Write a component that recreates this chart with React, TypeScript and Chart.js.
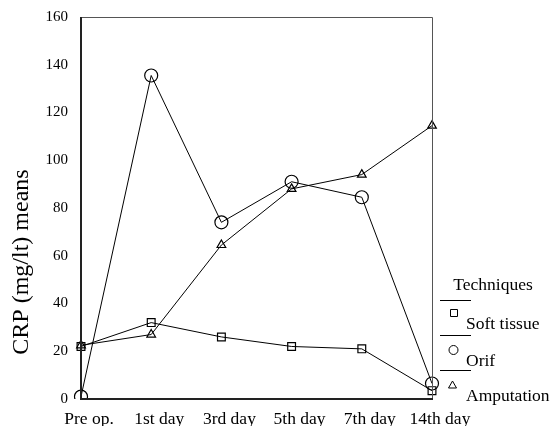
import React, { useEffect, useRef } from "react";
import { Chart, registerables } from "chart.js";

Chart.register(...registerables);

const categories = ["Pre op.", "1st day", "3rd day", "5th day", "7th day", "14th day"];
const softTissue = [22, 32, 26, 22, 21, 3.5];
const orif = [1, 135.5, 74, 91, 84.5, 6.5];
const amputation = [22.5, 27, 64.5, 88, 94, 114.5];
const legendTitle = "Techniques";
const yTitle = "CRP (mg/lt) means";

const FONT = "'Liberation Serif', 'Times New Roman', serif";

const boxPlugin = {
  id: "boxPlugin",
  afterDatasetsDraw(chart: any) {
    const { ctx, chartArea } = chart;
    const { left, right, top, bottom } = chartArea;
    ctx.save();
    ctx.strokeStyle = "#555";
    ctx.lineWidth = 1;
    ctx.beginPath();
    ctx.moveTo(left, top + 0.5);
    ctx.lineTo(right + 0.5, top + 0.5);
    ctx.lineTo(right + 0.5, bottom);
    ctx.stroke();
    ctx.strokeStyle = "#222";
    ctx.lineWidth = 2;
    ctx.beginPath();
    ctx.moveTo(left, top);
    ctx.lineTo(left, bottom);
    ctx.lineTo(right + 1, bottom);
    ctx.stroke();
    ctx.restore();
  },
};

const titlePlugin = {
  id: "yTitlePlugin",
  afterDraw(chart: any) {
    const { ctx } = chart;
    ctx.save();
    ctx.fillStyle = "#000";
    ctx.font = `24px ${FONT}`;
    ctx.textAlign = "center";
    ctx.textBaseline = "middle";
    ctx.translate(22, 262);
    ctx.rotate(-Math.PI / 2);
    ctx.fillText(yTitle, 0, 0);
    ctx.restore();
  },
};

const legendPlugin = {
  id: "customLegend",
  afterDraw(chart: any) {
    const { ctx } = chart;
    ctx.save();
    ctx.fillStyle = "#000";
    ctx.font = `17.5px ${FONT}`;
    ctx.textBaseline = "middle";
    ctx.textAlign = "center";
    ctx.fillText(legendTitle, 493, 285);
    const rows = [
      { lineY: 300, markY: 313, textY: 324, style: "rect" },
      { lineY: 335, markY: 350, textY: 361, style: "circle" },
      { lineY: 370, markY: 385, textY: 396, style: "triangle" },
    ];
    chart.data.datasets.forEach((ds: any, i: number) => {
      const r = rows[i];
      ctx.strokeStyle = "#000";
      ctx.lineWidth = 1;
      ctx.beginPath();
      ctx.moveTo(440, r.lineY + 0.5);
      ctx.lineTo(471, r.lineY + 0.5);
      ctx.stroke();
      ctx.beginPath();
      if (r.style === "rect") {
        ctx.rect(450.5, r.markY - 3.5, 7, 7);
      } else if (r.style === "circle") {
        ctx.arc(453.5, r.markY, 4.5, 0, Math.PI * 2);
      } else {
        ctx.moveTo(452.5, r.markY - 4);
        ctx.lineTo(456.5, r.markY + 3);
        ctx.lineTo(448.5, r.markY + 3);
        ctx.closePath();
      }
      ctx.stroke();
      ctx.textAlign = "left";
      ctx.fillText(ds.label, 466, r.textY);
    });
    ctx.restore();
  },
};

export default function App() {
  const ref = useRef<HTMLCanvasElement | null>(null);
  useEffect(() => {
    document.body.style.margin = "0";
    const common = {
      borderColor: "#000",
      borderWidth: 1,
      backgroundColor: "rgba(0,0,0,0)",
      pointBorderColor: "#000",
      pointBackgroundColor: "rgba(0,0,0,0)",
      pointBorderWidth: 1.2,
      tension: 0,
    };
    const chart = new Chart(ref.current as HTMLCanvasElement, {
      type: "line",
      data: {
        labels: categories,
        datasets: [
          { ...common, label: "Soft tissue", data: softTissue, pointStyle: "rect", pointRadius: 5.5 },
          { ...common, label: "Orif", data: orif, pointStyle: "circle", pointRadius: 6.5 },
          { ...common, label: "Amputation", data: amputation, pointStyle: "triangle", pointRadius: 5 },
        ],
      },
      options: {
        animation: false,
        responsive: false,
        devicePixelRatio: 1,
        layout: { padding: { left: 0, right: 123, top: 17, bottom: 0 } },
        plugins: { legend: { display: false }, tooltip: { enabled: false } },
        scales: {
          x: {
            offset: false,
            grid: { display: false },
            border: { display: false },
            ticks: { color: "#000", font: { family: FONT, size: 17.5 }, padding: 2, labelOffset: 8, maxRotation: 0, autoSkip: false },
            afterFit(scale: any) { scale.height = 27; },
          },
          y: {
            min: 0,
            max: 160,
            grid: { display: false },
            border: { display: false },
            ticks: { stepSize: 20, color: "#000", font: { family: FONT, size: 15 }, padding: 5 },
            afterFit(scale: any) { scale.width = 81; },
          },
        },
      },
      plugins: [boxPlugin, titlePlugin, legendPlugin],
    });
    return () => chart.destroy();
  }, []);
  return (
    <div style={{ width: 555, height: 426, position: "relative", background: "#fff" }}>
      <canvas ref={ref} width={555} height={426} style={{ display: "block" }} />
    </div>
  );
}
